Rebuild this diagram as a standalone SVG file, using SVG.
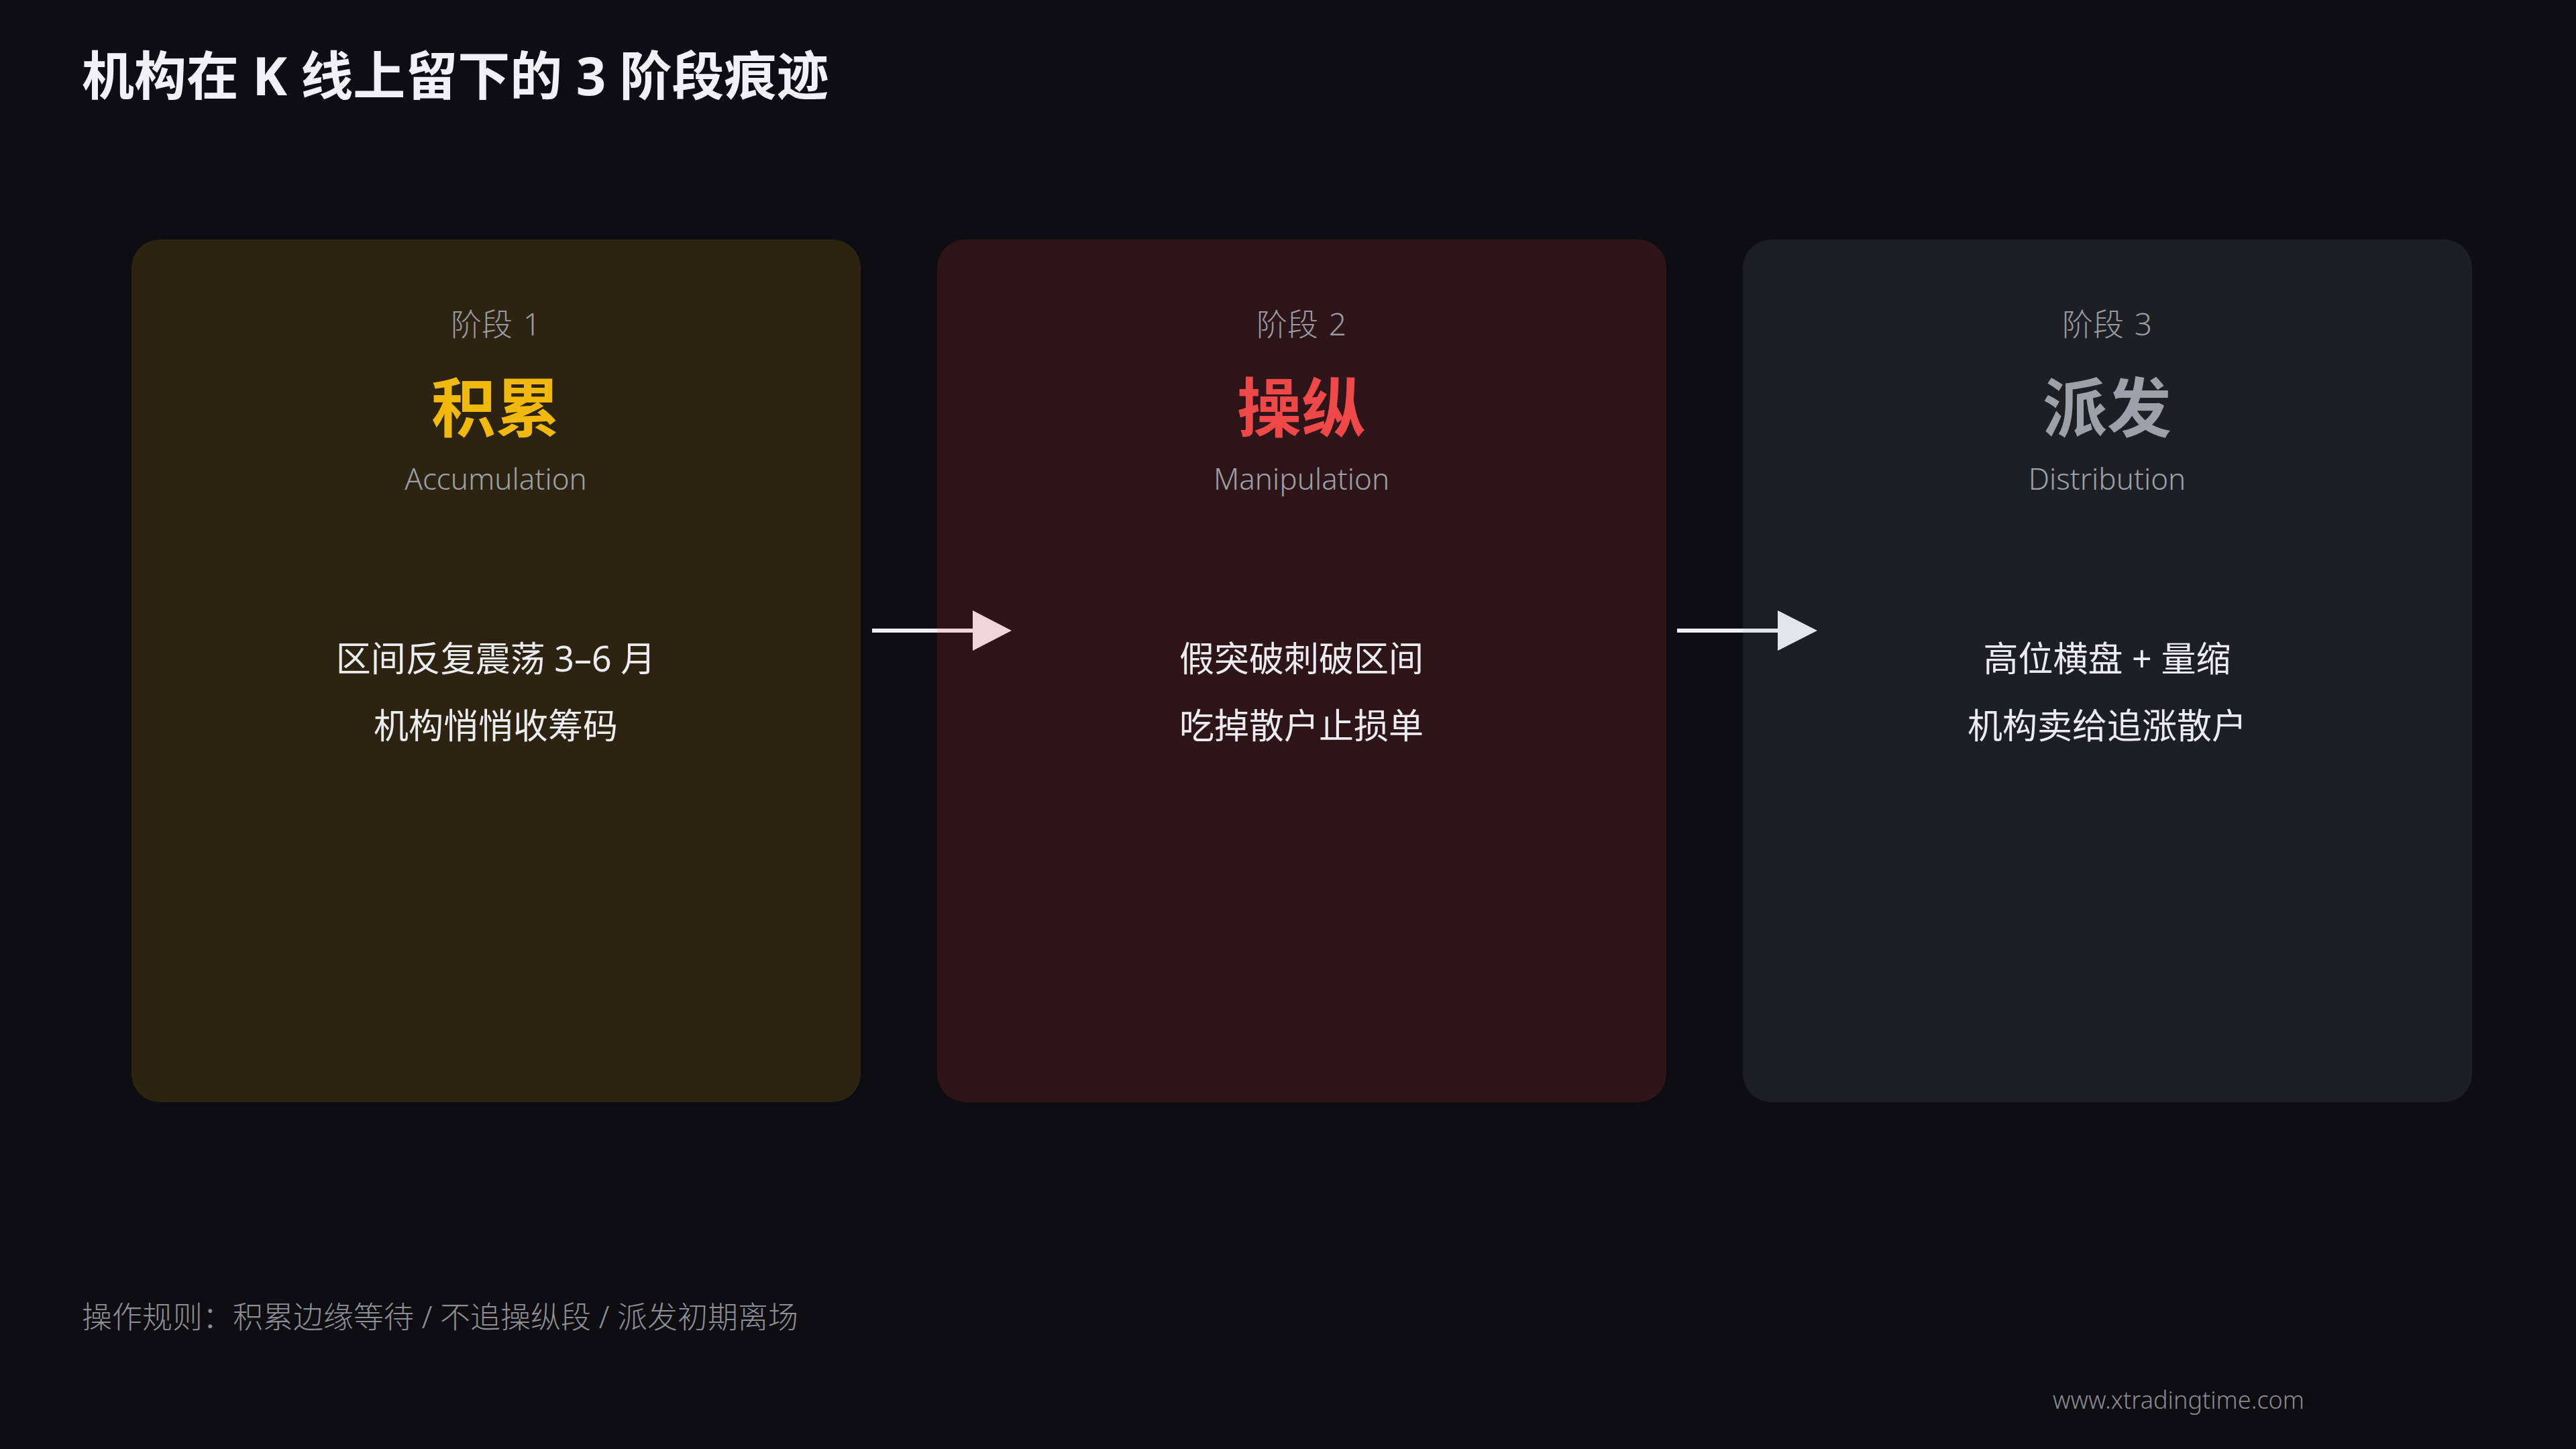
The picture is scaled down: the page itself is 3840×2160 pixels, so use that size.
<svg xmlns="http://www.w3.org/2000/svg" width="3840" height="2160" viewBox="0 0 3840 2160">
  <defs>
    <style>
      text { font-family: "Noto Sans", "Noto Sans CJK SC", sans-serif; }
      .title { font-size: 78px; font-weight: 700; fill: #f0f0f5; }
      .label { font-size: 46px; font-weight: 300; fill: #9a9aa2; text-anchor: middle; word-spacing: 4px; }
      .name { font-size: 96px; font-weight: 700; text-anchor: middle; }
      .en { font-size: 44px; font-weight: 300; fill: #9ca0a8; text-anchor: middle; }
      .body { font-size: 52px; font-weight: 400; fill: #ececf0; text-anchor: middle; }
      .footer { font-size: 45px; font-weight: 300; fill: #8e8e96; }
      .url { font-size: 36px; font-weight: 300; fill: #8a8a92; }
      .conn line { stroke: #eeeef2; stroke-width: 6; }
      .conn polygon { fill: #eeeef2; }
    </style>
  </defs>
  <rect x="0" y="0" width="3840" height="2160" fill="#0d0d12"/>
  <text class="title" x="122" y="142">机构在 K 线上留下的 3 阶段痕迹</text>

  <g id="connectors" class="conn">
    <g id="arrow-1-2">
      <line x1="1300" y1="940" x2="1452" y2="940"/>
      <polygon points="1450,910 1508,940 1450,970"/>
    </g>
    <g id="arrow-2-3">
      <line x1="2500" y1="940" x2="2652" y2="940"/>
      <polygon points="2650,910 2709,940 2650,970"/>
    </g>
  </g>

  <g id="stage-1">
    <rect x="196" y="357" width="1087" height="1286" rx="42" fill="rgba(234,179,8,0.14)"/>
    <text class="label" x="739" y="500">阶段 1</text>
    <text class="name" x="739" y="643" fill="#f0b90b">积累</text>
    <text class="en" x="739" y="730">Accumulation</text>
    <text class="body" x="739" y="1001">区间反复震荡 3–6 月</text>
    <text class="body" x="739" y="1101">机构悄悄收筹码</text>
  </g>

  <g id="stage-2">
    <rect x="1397" y="357" width="1087" height="1286" rx="42" fill="rgba(239,68,68,0.14)"/>
    <text class="label" x="1940" y="500">阶段 2</text>
    <text class="name" x="1940" y="643" fill="#ef4848">操纵</text>
    <text class="en" x="1940" y="730">Manipulation</text>
    <text class="body" x="1940" y="1001">假突破刺破区间</text>
    <text class="body" x="1940" y="1101">吃掉散户止损单</text>
  </g>

  <g id="stage-3">
    <rect x="2598" y="357" width="1087" height="1286" rx="42" fill="rgba(156,163,175,0.12)"/>
    <text class="label" x="3141" y="500">阶段 3</text>
    <text class="name" x="3141" y="643" fill="#9ca0a8">派发</text>
    <text class="en" x="3141" y="730">Distribution</text>
    <text class="body" x="3141" y="1001">高位横盘 + 量缩</text>
    <text class="body" x="3141" y="1101">机构卖给追涨散户</text>
  </g>

  <text class="footer" x="122" y="1980">操作规则：积累边缘等待 / 不追操纵段 / 派发初期离场</text>
  <text class="url" x="3060" y="2100">www.xtradingtime.com</text>
</svg>
